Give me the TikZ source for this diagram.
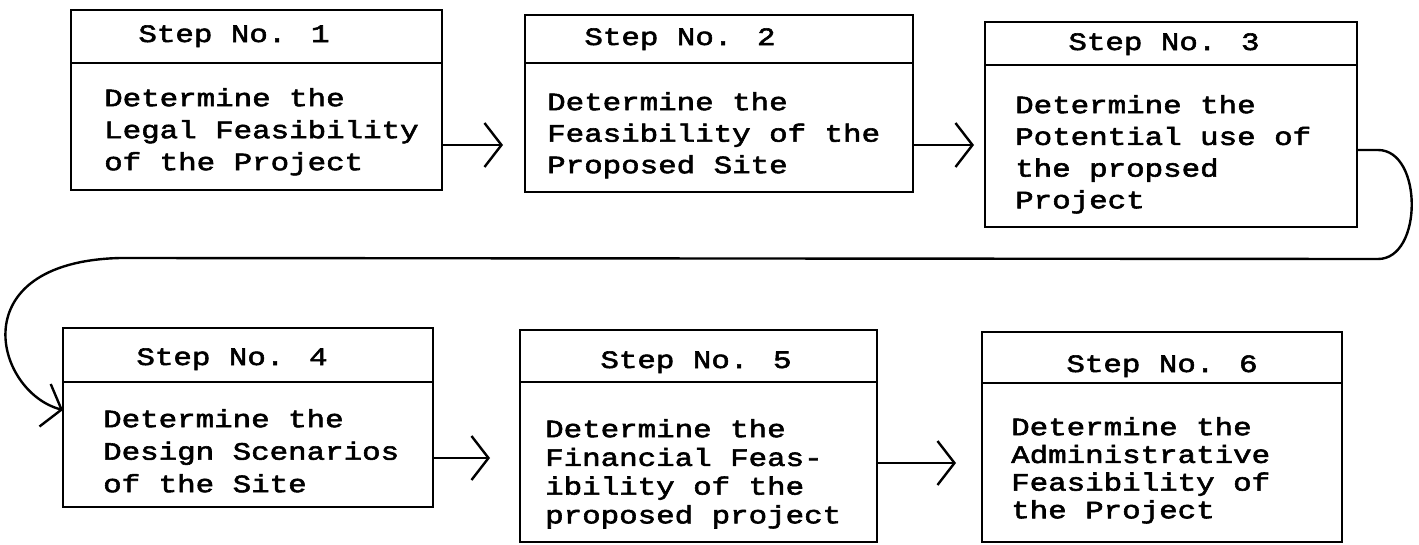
\documentclass[tikz,border=0pt]{standalone}
\usepackage{fontspec}
\setmainfont{Liberation Mono}
\newfontfamily\twfam[FakeBold=2.3,FakeStretch=1.233]{Liberation Mono}
\usetikzlibrary{arrows.meta}
\newcommand\twfont[1]{\twfam\fontsize{25}{#1}\selectfont\lineskiplimit=-40pt\lineskip=0pt}
\newcommand\firstln{\rule{0pt}{20pt}}
\tikzset{
  x=1pt, y=-1pt,
  frame/.style={draw, line width=2.4pt, inner sep=0pt, outer sep=0pt, anchor=north west},
  hdtext/.style={anchor=base, inner sep=0pt, font=\twfont{30}},
  bdtext/.style={anchor=north west, inner sep=0pt, align=left},
  arr/.style={line width=2.4pt, -{Straight Barb[length=17pt,width=44pt]}},
}
\begin{document}
\begin{tikzpicture}
\useasboundingbox (0,0) rectangle (1419,544);
% Box 1
\node[frame, minimum width=371pt, minimum height=53pt] (h1) at (71,10) {};
\node[frame, minimum width=371pt, minimum height=127pt] (c1) at (71,63) {};
\node[hdtext] (s1) at (234,42) {Step No. 1};
\node[bdtext, font=\twfont{32}] (t1) at (104,86) {\firstln Determine the\\Legal Feasibility\\of the Project};
% Box 2
\node[frame, minimum width=388pt, minimum height=48pt] (h2) at (525,15) {};
\node[frame, minimum width=388pt, minimum height=129pt] (c2) at (525,63) {};
\node[hdtext] (s2) at (680,45) {Step No. 2};
\node[bdtext, font=\twfont{31.5}] (t2) at (547,90) {\firstln Determine the\\Feasibility of the\\Proposed Site};
% Box 3
\node[frame, minimum width=372pt, minimum height=43pt] (h3) at (985,22) {};
\node[frame, minimum width=372pt, minimum height=162pt] (c3) at (985,65) {};
\node[hdtext] (s3) at (1164,50) {Step No. 3};
\node[bdtext, font=\twfont{31.7}] (t3) at (1015,93) {\firstln Determine the\\Potential use of\\the propsed\\Project};
% Box 4
\node[frame, minimum width=370pt, minimum height=54pt] (h4) at (63,328) {};
\node[frame, minimum width=370pt, minimum height=125pt] (c4) at (63,382) {};
\node[hdtext] (s4) at (232,365) {Step No. 4};
\node[bdtext, font=\twfont{32.5}] (t4) at (103,407) {\firstln Determine the\\Design Scenarios\\of the Site};
% Box 5
\node[frame, minimum width=357pt, minimum height=52pt] (h5) at (520,330) {};
\node[frame, minimum width=357pt, minimum height=160pt] (c5) at (520,382) {};
\node[hdtext] (s5) at (696,368) {Step No. 5};
\node[bdtext, font=\twfont{28.7}] (t5) at (545,417) {\firstln Determine the\\Financial Feas-\\ibility of the\\proposed project};
% Box 6
\node[frame, minimum width=360pt, minimum height=51pt] (h6) at (982,332) {};
\node[frame, minimum width=360pt, minimum height=159pt] (c6) at (982,383) {};
\node[hdtext] (s6) at (1162,372) {Step No. 6};
\node[bdtext, font=\twfont{27.7}] (t6) at (1011,415) {\firstln Determine the\\Administrative\\Feasibility of\\the Project};
% Arrows
\coordinate (a1) at (503,145);
\draw[arr] (c1.east |- a1) -- (a1);
\coordinate (a2) at (974,145);
\draw[arr] (c2.east |- a2) -- (a2);
\coordinate (a4) at (490,458);
\draw[arr] (c4.east |- a4) -- (a4);
\coordinate (a5) at (956,463);
\draw[arr] (c5.east |- a5) -- (a5);
% Return connector from step 3 to step 4
\coordinate (k1) at (1378,150);
\coordinate (k2) at (1378,259);
\coordinate (k3) at (120,258);
\coordinate (a3) at (63,410);
\draw[arr] (c3.east |- k1) -- (k1) .. controls (1423,150) and (1423,259) .. (k2) -- (k3) .. controls (-40,262) and (-5,392) .. (a3);
\end{tikzpicture}
\end{document}
